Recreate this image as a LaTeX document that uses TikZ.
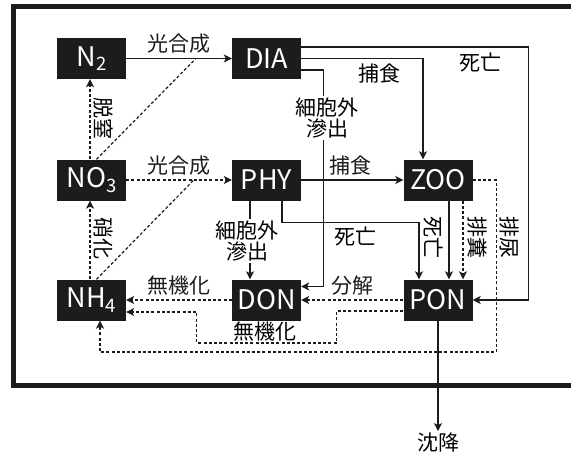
\documentclass[tikz,border=0pt]{standalone}
\usepackage{fontspec}
\setmainfont{Noto Sans CJK JP}
\usepackage{xcolor}
\usepackage{tikz}
\usetikzlibrary{calc, arrows.meta, positioning}
\definecolor{inkblack}{RGB}{28,28,28}
\newcommand{\nsub}[1]{\raisebox{-0.3ex}{\fontsize{18.5}{18.5}\selectfont #1}}

\begin{document}
\begin{tikzpicture}[
  x=1pt, y=-1pt,
  >={Stealth[length=8pt,width=8pt,inset=2pt]},
  every node/.style={font=\fontsize{21}{21}\selectfont},
  box/.style={fill=inkblack, text=white, minimum width=69pt, minimum height=41pt,
              inner sep=0pt, font=\fontsize{27}{27}\selectfont},
  flow/.style={->, line width=1.2pt, inkblack},
  dflow/.style={->, line width=1.2pt, inkblack, dash pattern=on 3pt off 2.2pt},
  dline/.style={line width=1.2pt, inkblack, dash pattern=on 3pt off 2.2pt},
  vlbl/.style={rotate=-90, inner sep=1pt},
  wlbl/.style={fill=white, inner sep=2pt, align=center}
]
\useasboundingbox (0,0) rectangle (571,455);
% frame, open on the right
\draw[line width=5pt, inkblack] (571,6.5) -- (13,6.5) -- (13,385.5) -- (571,385.5);
\foreach \n/\x/\y/\t in {N2/91.5/58.5/N\nsub{2}, DIA/266.5/58.5/DIA,
                         NO3/91.5/180/NO\nsub{3}, PHY/266.5/180/PHY, ZOO/438/180/ZOO,
                         NH4/91.5/300/NH\nsub{4}, DON/266.5/300/DON, PON/438/300/PON}
  \node[box] (\n) at (\x,\y) {\t};
\coordinate (synA) at ($(N2.east)!0.66!(DIA.west)$);
\coordinate (synB) at ($(NO3.east)!0.64!(PHY.west)$);
% nitrogen uptake
\draw[flow] (N2) -- node[above=1pt] {光合成} (DIA);
\draw[dflow] (NO3) -- node[above=1pt] {光合成} (PHY);
\draw[dline] ([xshift=5pt]NO3.north) -- (synA);
\draw[dline] ([xshift=5pt]NH4.north) -- (synB);
\draw[dflow] ([xshift=-1.5pt]NO3.north) -- ([xshift=-1.5pt]N2.south);
\node[vlbl] at (103,118) {脱窒};
\draw[dflow] ([xshift=-1.5pt]NH4.north) -- ([xshift=-1.5pt]NO3.south);
\node[vlbl] at (103,238) {硝化};
% diatoms
\draw[flow] (DIA.east) -| ([xshift=-15pt]ZOO.north);
\node at (379,74) {捕食};
\draw[flow] ([yshift=11.5pt]DIA.east) -- ++(227,0) |- (PON.east);
\node at (480,63) {死亡};
\draw[flow] ([yshift=-11.5pt]DIA.east) -- ++(22,0) |- ([yshift=13.5pt]DON.east);
\node[wlbl] at (327,118) {細胞外\\滲出};
% phytoplankton
\draw[flow] (PHY) -- node[above=1pt, pos=0.48] {捕食} (ZOO);
\draw[flow] ([xshift=-16.5pt]PHY.south) -- ([xshift=-16.5pt]DON.north);
\node[wlbl] at (247,241) {細胞外\\滲出};
\draw[flow] ([xshift=15.5pt]PHY.south) -- ++(0,22) -| ([xshift=-19pt]PON.north);
\node at (355,237) {死亡};
% zooplankton
\draw[flow] ([xshift=11pt]ZOO.south) -- ([xshift=11pt]PON.north);
\node[vlbl] at (433,237) {死亡};
\draw[dflow] ([xshift=25pt]ZOO.south) -- ([xshift=25pt]PON.north);
\node[vlbl] at (477,237) {排糞};
\draw[dflow] (ZOO.east) -- ++(23.5,0) -- ++(0,172) -| ([xshift=8.5pt]NH4.south);
\node[vlbl] at (509,237) {排尿};
% remineralisation
\draw[dflow] (DON) -- node[above=1pt] {無機化} (NH4);
\draw[dflow] (PON) -- node[above=1pt] {分解} (DON);
\draw[dflow] ([yshift=-11pt]PON.west) -- ++(-66.5,0) -- ++(0,32) -- ++(-140,0)
  |- ([yshift=-12pt]NH4.east);
\node at (265,332) {無機化};
% sinking
\node[inner sep=2pt] (sink) at (438,443) {沈降};
\draw[flow] (PON.south) -- (sink.north);
\end{tikzpicture}
\end{document}
